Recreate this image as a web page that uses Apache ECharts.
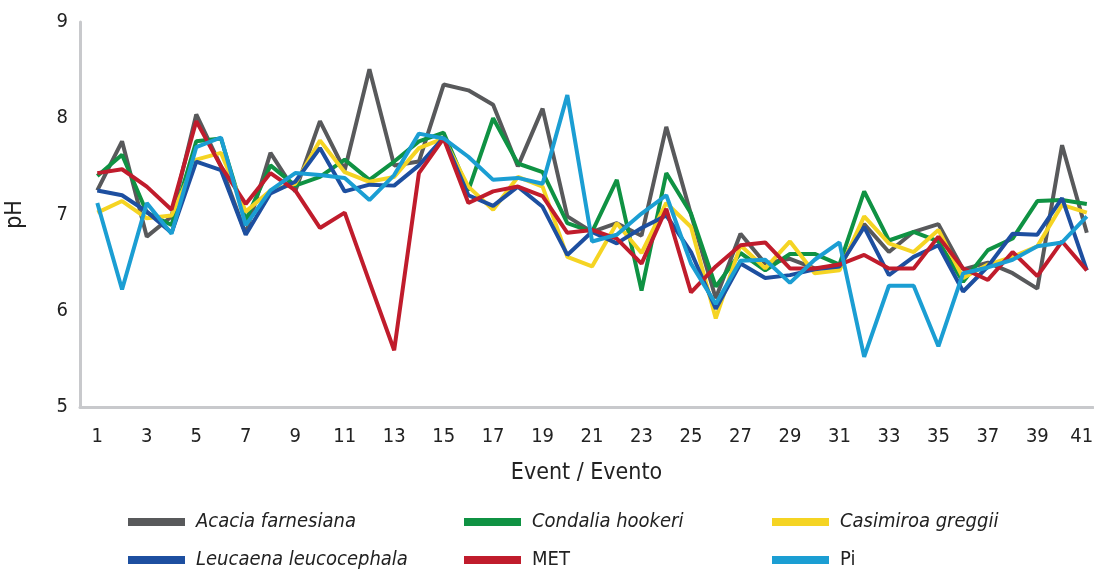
<!DOCTYPE html>
<html>
<head>
<meta charset="utf-8">
<script src="https://cdn.jsdelivr.net/npm/echarts@6/dist/echarts.min.js"></script>
<style>
    html, body { margin: 0; padding: 0; background: #fff; }
    #chart { width: 1094px; height: 569px; }
</style>
</head>
<body>
<div id="chart"></div>
<script>
// events 1..41
const events = [];
for (let i = 1; i <= 41; i++) events.push(i);
const tickLabels = [1, 3, 5, 7, 9, 11, 13, 15, 17, 19, 21, 23, 25, 27, 29, 31, 33, 35, 37, 39, 41];

const acacia = [7.25, 7.76, 6.77, 6.98, 8.04, 7.5, 6.8, 7.64, 7.24, 7.97, 7.46, 8.51, 7.51, 7.55, 8.35, 8.29, 8.14, 7.5, 8.1, 6.98,
    6.82, 6.91, 6.78, 7.91, 7.0, 6.13, 6.8, 6.49, 6.54, 6.44, 6.46, 6.9, 6.61, 6.82, 6.9, 6.43, 6.5, 6.39, 6.23, 7.72, 6.81];
const condalia = [7.4, 7.62, 7.02, 6.89, 7.76, 7.79, 6.94, 7.51, 7.3, 7.39, 7.57, 7.36, 7.55, 7.76, 7.85, 7.25, 8.0, 7.53, 7.44, 6.91,
    6.82, 7.36, 6.21, 7.43, 7.01, 6.25, 6.6, 6.42, 6.59, 6.59, 6.48, 7.24, 6.73, 6.82, 6.72, 6.3, 6.63, 6.75, 7.14, 7.15, 7.11];
const casimiroa = [7.02, 7.14, 6.96, 6.99, 7.57, 7.64, 7.03, 7.25, 7.32, 7.77, 7.44, 7.34, 7.39, 7.69, 7.79, 7.29, 7.05, 7.39, 7.29, 6.56,
    6.46, 6.91, 6.6, 7.12, 6.87, 5.92, 6.68, 6.44, 6.72, 6.39, 6.42, 6.98, 6.7, 6.61, 6.84, 6.34, 6.48, 6.56, 6.67, 7.1, 7.02];
const leucaena = [7.25, 7.2, 7.03, 6.81, 7.55, 7.46, 6.79, 7.22, 7.34, 7.69, 7.24, 7.31, 7.3, 7.51, 7.8, 7.2, 7.09, 7.29, 7.08, 6.58,
    6.82, 6.7, 6.86, 6.99, 6.61, 6.02, 6.49, 6.34, 6.37, 6.43, 6.46, 6.87, 6.37, 6.56, 6.68, 6.2, 6.46, 6.8, 6.79, 7.17, 6.42];
const met = [7.43, 7.47, 7.29, 7.05, 7.97, 7.5, 7.11, 7.43, 7.25, 6.86, 7.02, 6.3, 5.59, 7.43, 7.79, 7.12, 7.24, 7.29, 7.19, 6.81,
    6.84, 6.75, 6.49, 7.06, 6.19, 6.46, 6.68, 6.71, 6.44, 6.44, 6.48, 6.58, 6.44, 6.44, 6.77, 6.44, 6.32, 6.61, 6.36, 6.72, 6.42];
const pi = [7.12, 6.22, 7.12, 6.8, 7.7, 7.8, 6.89, 7.25, 7.43, 7.41, 7.38, 7.15, 7.41, 7.84, 7.79, 7.6, 7.36, 7.38, 7.32, 8.24,
    6.72, 6.79, 7.01, 7.2, 6.49, 6.07, 6.52, 6.53, 6.29, 6.53, 6.71, 5.52, 6.26, 6.26, 5.63, 6.39, 6.45, 6.53, 6.67, 6.71, 6.98];

const seriesNames = ['Acacia farnesiana', 'Condalia hookeri', 'Casimiroa greggii', 'Leucaena leucocephala', 'MET', 'Pi'];
const seriesColors = ['#58595b', '#0f9243', '#f5d423', '#1d4fa0', '#c01c2c', '#1b9ed3'];
const seriesData = [acacia, condalia, casimiroa, leucaena, met, pi];

const fontFamily = '"DejaVu Sans Condensed", "Roboto", sans-serif';

const chart = echarts.init(document.getElementById('chart'));

const series = seriesNames.map((name, k) => ({
    name,
    type: 'line',
    data: seriesData[k].map((v, i) => [events[i], v]),
    showSymbol: false,
    symbol: 'none',
    color: seriesColors[k],
    lineStyle: { width: 4, color: seriesColors[k] },
    animation: false,
}));

// legend: one small legend per entry, 3 columns x 2 rows
const legendLeft = [128, 464, 772];
const legendTop = [512, 550];
const legends = seriesNames.map((name, k) => ({
    left: legendLeft[k % 3],
    top: legendTop[Math.floor(k / 3)],
    itemWidth: 57,
    itemHeight: 8,
    icon: 'rect',
    selectedMode: false,
    padding: 0,
    textStyle: {
        fontSize: 20,
        color: '#222',
        fontFamily,
        padding: [0, 0, 0, 6],
        fontStyle: (name === 'MET' || name === 'Pi') ? 'normal' : 'italic',
    },
    data: [name],
}));

const option = {
    animation: false,
    grid: { left: 80, right: 1, top: 22, bottom: 162, outerBoundsMode: 'none' },
    legend: legends,
    xAxis: {
        type: 'value',
        min: 0.3,
        max: 41.25,
        name: 'Event / Evento',
        nameLocation: 'middle',
        nameGap: 55,
        nameTextStyle: { fontSize: 23, color: '#222', fontFamily },
        axisLine: { show: true, lineStyle: { color: '#c8c9cc', width: 3 } },
        axisTick: { show: false },
        splitLine: { show: false },
        axisLabel: {
            customValues: tickLabels,
            fontSize: 20,
            color: '#222',
            fontFamily,
            margin: 20,
            // last label sits a bit left of its point, as in the original
            formatter: (v) => (v === 41 ? '{r|41}' : String(v)),
            rich: { r: { fontSize: 20, color: '#222', fontFamily, padding: [0, 10, 0, 0] } },
        },
    },
    yAxis: {
        type: 'value',
        min: 5,
        max: 9,
        interval: 1,
        name: 'pH',
        nameLocation: 'middle',
        nameGap: 53,
        nameTextStyle: { fontSize: 23, color: '#222', fontFamily },
        axisLine: { show: true, lineStyle: { color: '#c8c9cc', width: 3 } },
        axisTick: { show: false },
        splitLine: { show: false },
        axisLabel: { fontSize: 20, color: '#222', fontFamily, margin: 12 },
    },
    series,
};

chart.setOption(option);
</script>
</body>
</html>
